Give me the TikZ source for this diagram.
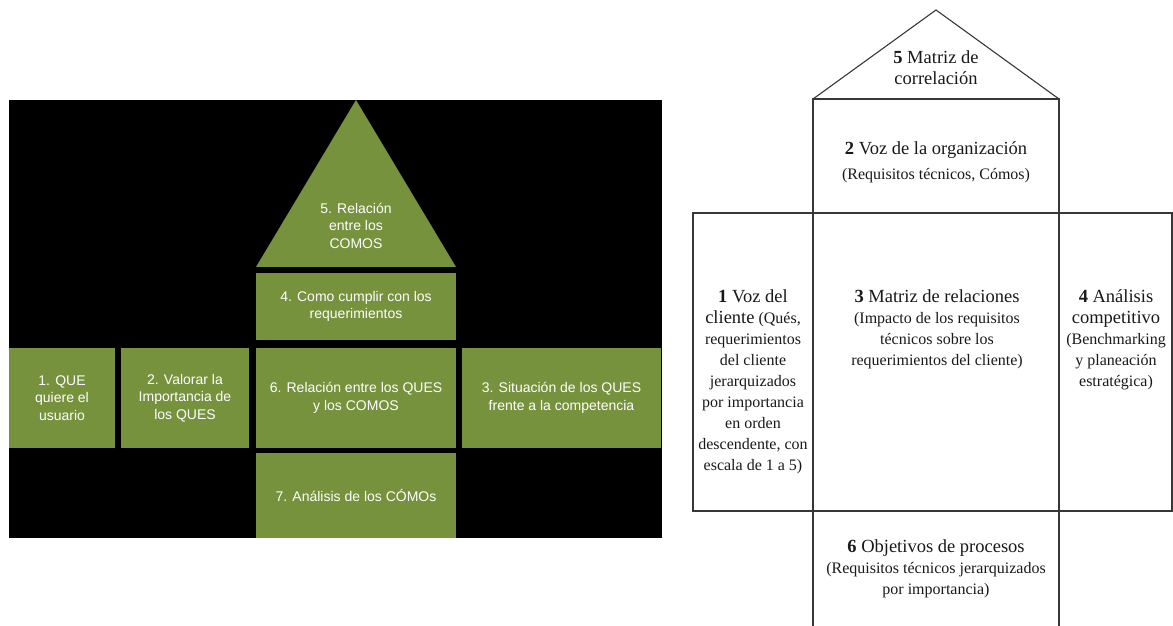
\documentclass[tikz,border=0pt]{standalone}
\usepackage{fontspec}
\setmainfont{Liberation Serif}
\setsansfont{Liberation Sans}
\usetikzlibrary{positioning}
\definecolor{qfdgreen}{RGB}{118,146,60}
\definecolor{linecol} {RGB}{55,55,55}
\definecolor{txtcol}  {RGB}{25,25,25}
\newcommand{\qtitle}[1]{{\fontsize{18.5}{21}\selectfont #1}}

\begin{document}
\begin{tikzpicture}[x=1pt,y=1pt,
  gbox/.style={rectangle,fill=qfdgreen,text=white,align=center,inner sep=0pt,
               font=\sffamily\fontsize{14}{17.5}\selectfont},
  hlab/.style={align=center,inner sep=0pt,text=txtcol,
               font=\rmfamily\fontsize{16}{21}\selectfont},
  wall/.style={draw=linecol,line width=1.1pt}
]
\useasboundingbox (0,0) rectangle (1173,626);
% left house
\fill[black] (9,88) rectangle (662,526);
\fill[qfdgreen] (256,359) -- (356,526) -- (456,359) -- cycle;
\node[gbox,fill=none] (relcomos) at (356,400.5) {5. Relación\\entre los\\COMOS};
\node[gbox,minimum width=200pt,minimum height=67pt] (cumplir) at (356,319.5)
  {4. Como cumplir con los\\requerimientos};
\node[gbox,minimum width=106pt,minimum height=100pt] (usuario) at (62,228)
  {1. QUE\\quiere el\\usuario};
\node[gbox,minimum width=128pt,minimum height=100pt] (valor) at (185,228)
  {2. Valorar la\\Importancia de\\los QUES};
\node[gbox,minimum width=200pt,minimum height=100pt] (relques) at (356,228)
  {6. Relación entre los QUES\\y los COMOS};
\node[gbox,minimum width=199pt,minimum height=100pt] (compet) at (561.5,228)
  {3. Situación de los QUES\\frente a la competencia};
\node[gbox,minimum width=200pt,minimum height=85pt] (analisis) at (356,130.5)
  {7. Análisis de los CÓMOs};
% right house
\draw[wall] (813,527) -- (936,616) -- (1059,527);
\draw[wall] (813,413) rectangle (1059,527);
\draw[wall] (693,115) rectangle (1172,413);
\draw[wall] (813,0) -- (813,413) (1059,0) -- (1059,413);
\node[hlab] (corr) at (936,558) {\qtitle{\textbf{5} Matriz de}\\\qtitle{correlación}};
\node[hlab] (vozorg) at (936,463.5)
  {\qtitle{\textbf{2} Voz de la organización}\\[4pt](Requisitos técnicos, Cómos)};
\node[hlab] (vozcli) at (753,244.5)
  {\qtitle{\textbf{1} Voz del}\\\qtitle{cliente} (Qués,\\requerimientos\\del cliente\\jerarquizados\\por importancia\\en orden\\descendente, con\\escala de 1 a 5)};
\node[hlab] (matriz) at (937,297)
  {\qtitle{\textbf{3} Matriz de relaciones}\\(Impacto de los requisitos\\técnicos sobre los\\requerimientos del cliente)};
\node[hlab] (bench) at (1116,286.5)
  {\qtitle{\textbf{4} Análisis}\\\qtitle{competitivo}\\(Benchmarking\\y planeación\\estratégica)};
\node[hlab] (objet) at (936,57.5)
  {\qtitle{\textbf{6} Objetivos de procesos}\\(Requisitos técnicos jerarquizados\\por importancia)};
\end{tikzpicture}
\end{document}
